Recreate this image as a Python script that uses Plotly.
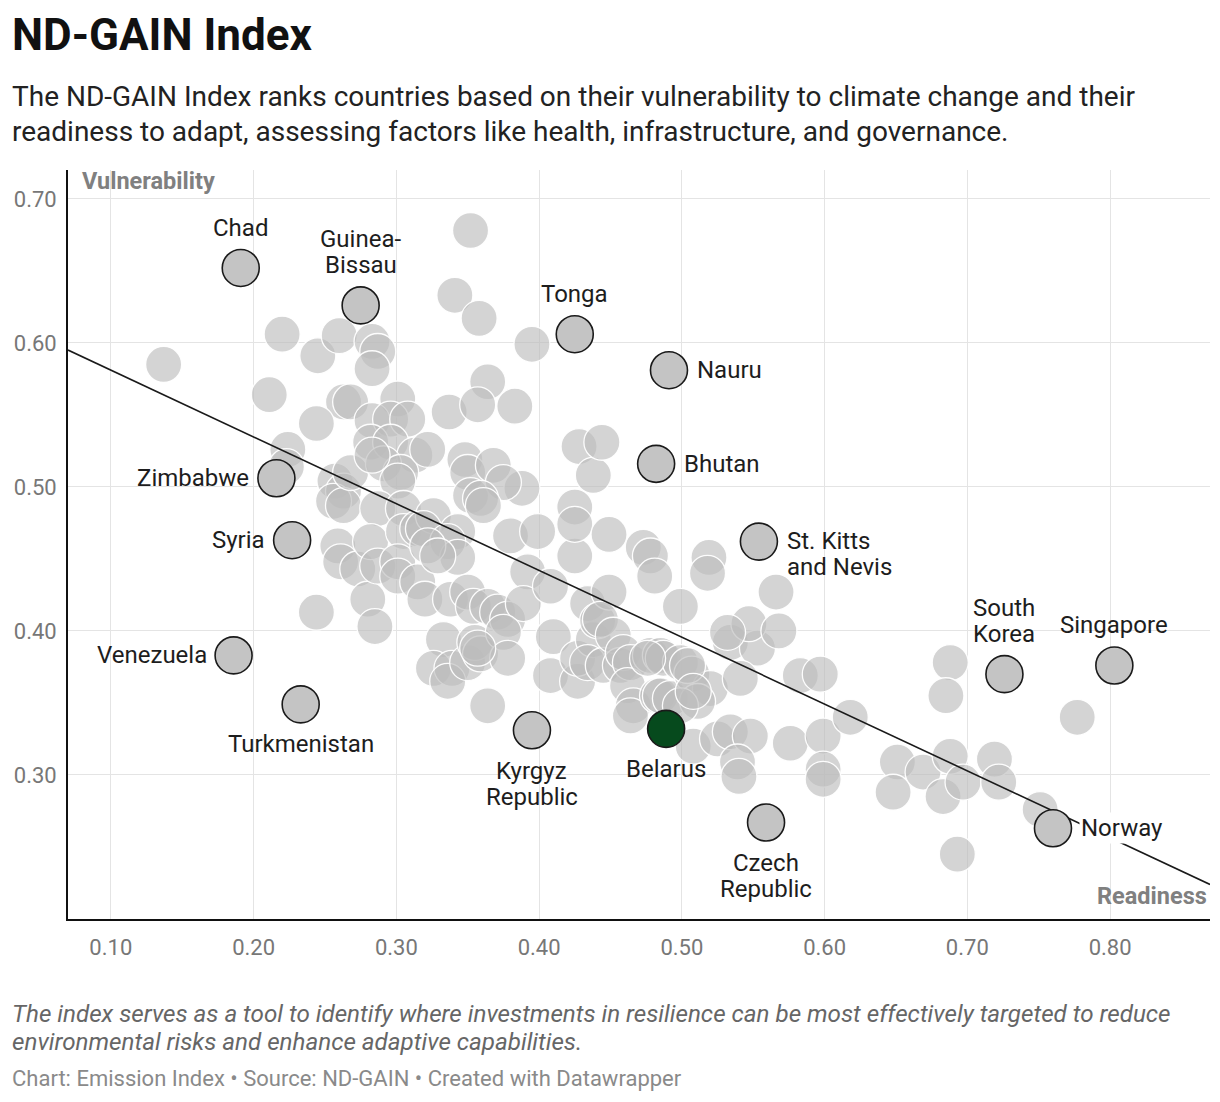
import plotly.graph_objects as go

# Países sin etiqueta (readiness, vulnerability)
other_readiness = [
    0.137, 0.211, 0.220, 0.224, 0.223, 0.245, 0.260, 0.263, 0.268, 0.244,
    0.257, 0.263, 0.256, 0.263, 0.268, 0.259, 0.261, 0.273, 0.280, 0.244,
    0.283, 0.287, 0.283, 0.301, 0.283, 0.296, 0.308, 0.282, 0.296, 0.313,
    0.291, 0.303, 0.301, 0.287, 0.305, 0.282, 0.305, 0.287, 0.301, 0.301,
    0.315, 0.285, 0.315, 0.341, 0.352, 0.337, 0.322, 0.348, 0.326, 0.319,
    0.343, 0.336, 0.343, 0.322, 0.329, 0.350, 0.352, 0.320, 0.338, 0.350,
    0.333, 0.326, 0.339, 0.336, 0.350, 0.358, 0.364, 0.357, 0.383, 0.368,
    0.388, 0.375, 0.359, 0.361, 0.380, 0.392, 0.354, 0.364, 0.371, 0.378,
    0.389, 0.355, 0.359, 0.375, 0.378, 0.357, 0.364, 0.395, 0.399, 0.408,
    0.410, 0.408, 0.427, 0.427, 0.425, 0.425, 0.434, 0.438, 0.441, 0.428,
    0.438, 0.425, 0.434, 0.444, 0.449, 0.449, 0.443, 0.445, 0.452, 0.457,
    0.459, 0.464, 0.462, 0.466, 0.464, 0.473, 0.478, 0.481, 0.483, 0.478,
    0.485, 0.487, 0.485, 0.492, 0.499, 0.507, 0.499, 0.520, 0.511, 0.499,
    0.504, 0.508, 0.508, 0.519, 0.518, 0.525, 0.534, 0.548, 0.539, 0.540,
    0.576, 0.599, 0.599, 0.599, 0.618, 0.583, 0.597, 0.534, 0.553, 0.547,
    0.568, 0.566, 0.541, 0.532, 0.651, 0.648, 0.669, 0.688, 0.683, 0.697,
    0.719, 0.722, 0.751, 0.693, 0.688, 0.685, 0.777, 0.476, 0.283,
]
other_vulnerability = [
    0.585, 0.564, 0.606, 0.526, 0.514, 0.591, 0.605, 0.559, 0.559, 0.544,
    0.504, 0.497, 0.490, 0.487, 0.510, 0.459, 0.448, 0.443, 0.422, 0.413,
    0.601, 0.594, 0.582, 0.561, 0.546, 0.547, 0.547, 0.531, 0.531, 0.522,
    0.516, 0.510, 0.504, 0.485, 0.485, 0.462, 0.469, 0.445, 0.448, 0.438,
    0.434, 0.403, 0.471, 0.633, 0.678, 0.552, 0.526, 0.519, 0.480, 0.471,
    0.469, 0.462, 0.451, 0.459, 0.452, 0.510, 0.494, 0.422, 0.422, 0.427,
    0.394, 0.374, 0.374, 0.365, 0.378, 0.617, 0.573, 0.557, 0.556, 0.515,
    0.499, 0.503, 0.492, 0.487, 0.466, 0.441, 0.417, 0.417, 0.413, 0.408,
    0.419, 0.392, 0.384, 0.399, 0.381, 0.388, 0.348, 0.599, 0.469, 0.431,
    0.396, 0.369, 0.365, 0.381, 0.486, 0.452, 0.419, 0.394, 0.407, 0.528,
    0.508, 0.474, 0.378, 0.531, 0.467, 0.427, 0.408, 0.376, 0.397, 0.376,
    0.385, 0.378, 0.362, 0.348, 0.341, 0.458, 0.452, 0.438, 0.355, 0.383,
    0.383, 0.381, 0.355, 0.353, 0.378, 0.370, 0.417, 0.360, 0.351, 0.348,
    0.376, 0.358, 0.320, 0.451, 0.440, 0.325, 0.330, 0.327, 0.309, 0.299,
    0.322, 0.327, 0.304, 0.297, 0.340, 0.369, 0.370, 0.392, 0.388, 0.405,
    0.400, 0.427, 0.367, 0.399, 0.309, 0.288, 0.302, 0.313, 0.285, 0.295,
    0.311, 0.295, 0.276, 0.245, 0.378, 0.355, 0.340, 0.381, 0.522,
]

# Países destacados
labeled_names = [
    "Chad", "Guinea-|Bissau", "Tonga", "Nauru", "Bhutan", "Zimbabwe",
    "Syria", "St. Kitts|and Nevis", "Venezuela", "Turkmenistan",
    "Kyrgyz|Republic", "Czech|Republic", "South|Korea",
    "Singapore", "Norway",
]
labeled_readiness = [
    0.191, 0.275, 0.425, 0.491, 0.482, 0.216, 0.227, 0.554, 0.186, 0.233,
    0.395, 0.559, 0.726, 0.803, 0.760,
]
labeled_vulnerability = [
    0.652, 0.626, 0.606, 0.581, 0.516, 0.506, 0.463, 0.462, 0.383, 0.349,
    0.331, 0.267, 0.370, 0.376, 0.263,
]
label_side = [
    "top", "top", "top", "right", "right", "left", "left", "right", "left",
    "bottom", "bottom", "bottom", "top", "top", "right",
]

highlight_name = "Belarus"
highlight_readiness = [0.489]
highlight_vulnerability = [0.332]

# Línea de tendencia (extremos)
trend_readiness = [0.07, 0.87]
trend_vulnerability = [0.595, 0.224]

x_ticks = [0.10, 0.20, 0.30, 0.40, 0.50, 0.60, 0.70, 0.80]
y_ticks = [0.30, 0.40, 0.50, 0.60, 0.70]

FONT = "Roboto, Arial, sans-serif"
LABEL_FONT = dict(family=FONT, size=24, color="#1d1d1d")

fig = go.Figure()

fig.add_trace(go.Scatter(
    x=other_readiness, y=other_vulnerability, mode="markers",
    marker=dict(size=36, color="rgba(188,188,188,0.64)",
                line=dict(color="rgba(255,255,255,0.95)", width=1.3)),
    hoverinfo="skip", showlegend=False,
))

fig.add_trace(go.Scatter(
    x=trend_readiness, y=trend_vulnerability, mode="lines",
    line=dict(color="#1a1a1a", width=1.6),
    hoverinfo="skip", showlegend=False,
))

fig.add_trace(go.Scatter(
    x=labeled_readiness, y=labeled_vulnerability, mode="markers",
    marker=dict(size=37, color="#c4c4c4", line=dict(color="#1a1a1a", width=1.6)),
    text=[n.replace("|", " ") for n in labeled_names], hoverinfo="text",
    showlegend=False,
))

fig.add_trace(go.Scatter(
    x=highlight_readiness, y=highlight_vulnerability, mode="markers",
    marker=dict(size=37, color="#064a1d", line=dict(color="#1a1a1a", width=1.6)),
    text=[highlight_name], hoverinfo="text", showlegend=False,
))

annotations = []
offsets = {
    "top": dict(xanchor="center", xshift=0, yshift=40),
    "bottom": dict(xanchor="center", xshift=0, yshift=-40),
    "left": dict(xanchor="right", xshift=-25, yshift=0),
    "right": dict(xanchor="left", xshift=26, yshift=0),
}
for name, xv, yv, side in zip(labeled_names, labeled_readiness,
                               labeled_vulnerability, label_side):
    o = offsets[side]
    lines = name.split("|")
    if len(lines) == 1:
        shifts = [o["yshift"]]
    elif side == "top":
        shifts = [66, 40]
    elif side == "bottom":
        shifts = [-41, -67]
    else:
        shifts = [1, -25]
    for line, ys in zip(lines, shifts):
        annotations.append(dict(
            x=xv, y=yv, xref="x", yref="y", text=line, showarrow=False,
            xanchor=o["xanchor"], yanchor="middle",
            xshift=o["xshift"], yshift=ys,
            font=LABEL_FONT,
            bgcolor="white" if name == "Norway" else None,
            borderpad=1,
        ))

annotations.append(dict(
    x=highlight_readiness[0], y=highlight_vulnerability[0], xref="x", yref="y",
    text=highlight_name, showarrow=False, yshift=-40, yanchor="middle",
    font=LABEL_FONT,
))


def px_x(px):
    return (px - 68) / 1142


def px_y(py):
    return (919 - py) / 749


texts = [
    ("<b>ND-GAIN Index</b>", 10, 35, 44, "#111111", "left"),
    ("The ND-GAIN Index ranks countries based on their vulnerability to climate change and their",
     10, 97, 28, "#222222", "left"),
    ("readiness to adapt, assessing factors like health, infrastructure, and governance.",
     10, 131, 28, "#222222", "left"),
    ("<i>The index serves as a tool to identify where investments in resilience can be most effectively targeted to reduce</i>",
     10, 1014, 24.2, "#666666", "left"),
    ("<i>environmental risks and enhance adaptive capabilities.</i>",
     10, 1042, 24.2, "#666666", "left"),
    ("Chart: Emission Index • Source: ND-GAIN • Created with Datawrapper",
     10, 1078, 22, "#8a8a8a", "left"),
    ("<b>Vulnerability</b>", 80, 181, 23.5, "#808080", "left"),
    ("<b>Readiness</b>", 1209, 896, 23.5, "#808080", "right"),
]
for t, px, py, size, color, anchor in texts:
    annotations.append(dict(
        x=px_x(px), y=px_y(py), xref="paper", yref="paper", text=t,
        showarrow=False, xanchor=anchor, yanchor="middle",
        font=dict(family=FONT, size=size, color=color),
    ))

# El html deja 8px de margen en body: se compensa en los márgenes
fig.update_layout(
    width=1220, height=1102,
    margin=dict(l=60, r=18, t=162, b=191),
    paper_bgcolor="white", plot_bgcolor="white",
    font=dict(family=FONT),
    annotations=annotations,
    xaxis=dict(
        range=[0.07, 0.87], tickvals=x_ticks, tickformat=".2f",
        showgrid=True, gridcolor="#e4e4e4", gridwidth=1.3,
        zeroline=False, showline=True, linecolor="#111111", linewidth=1.8,
        ticks="", ticklabelstandoff=8, automargin=False,
        tickfont=dict(family=FONT, size=22, color="#777777"),
    ),
    yaxis=dict(
        range=[0.20, 0.72], tickvals=y_ticks, tickformat=".2f",
        showgrid=True, gridcolor="#e4e4e4", gridwidth=1.3,
        zeroline=False, showline=True, linecolor="#111111", linewidth=1.8,
        ticks="", ticklabelstandoff=5, automargin=False,
        tickfont=dict(family=FONT, size=22, color="#777777"),
    ),
)

fig.write_html("out.html")
